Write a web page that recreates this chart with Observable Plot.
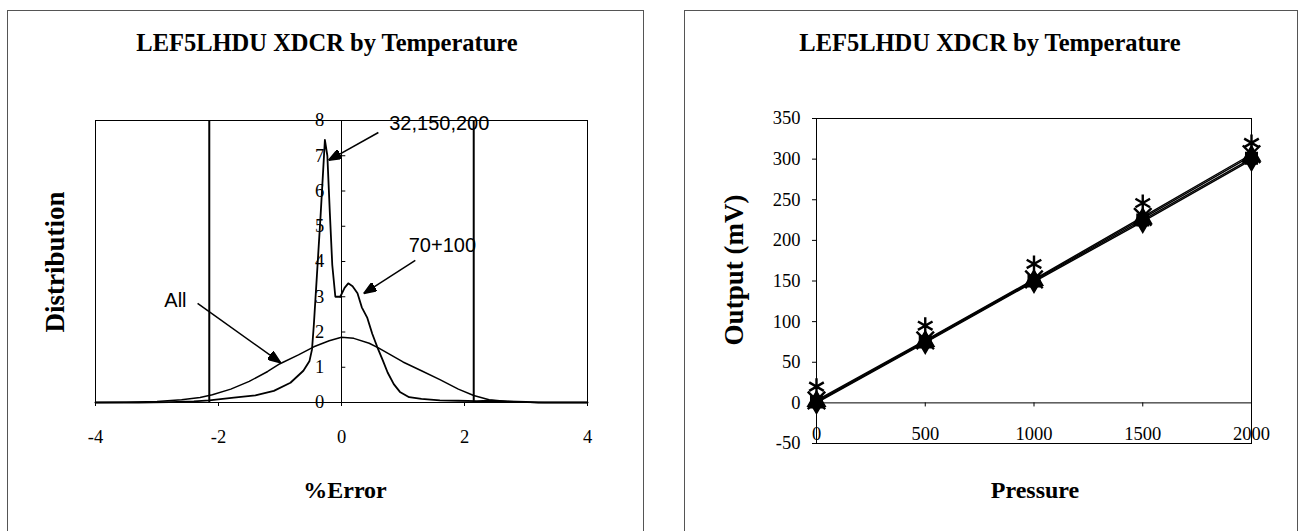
<!DOCTYPE html>
<html><head><meta charset="utf-8">
<script src="https://cdn.jsdelivr.net/npm/d3@7"></script>
<script src="https://cdn.jsdelivr.net/npm/@observablehq/plot@0.6"></script>
<style>
html,body{margin:0;padding:0;background:#fff;width:1299px;height:531px;overflow:hidden;position:relative}
.panel{position:absolute;border:1px solid #555;box-sizing:border-box}
.lbl{position:absolute;font-family:"Liberation Serif","Times New Roman",serif;font-weight:bold;color:#000;white-space:nowrap;transform:translate(-50%,-50%)}
.rot{transform:translate(-50%,-50%) rotate(-90deg)}
.chart{position:absolute;top:0}
</style></head><body>
<div class="panel" style="left:7px;top:10px;width:637px;height:540px"></div>
<div class="panel" style="left:684px;top:10px;width:614px;height:540px"></div>
<div id="c1" class="chart" style="left:0"></div>
<div id="c2" class="chart" style="left:650px"></div>
<div class="lbl" style="left:327px;top:43px;font-size:24.5px">LEF5LHDU XDCR by Temperature</div>
<div class="lbl" style="left:990px;top:43px;font-size:24.5px">LEF5LHDU XDCR by Temperature</div>
<div class="lbl" style="left:345px;top:490px;font-size:24px">%Error</div>
<div class="lbl rot" style="left:55px;top:262px;font-size:27px">Distribution</div>
<div class="lbl" style="left:1035px;top:490px;font-size:24px">Pressure</div>
<div class="lbl rot" style="left:734px;top:270px;font-size:27px">Output (mV)</div>
<script>
// ---------- Left chart data: distribution of %Error ----------
const errTicks = [-4, -2, 0, 2, 4];
const distTicks = [0, 1, 2, 3, 4, 5, 6, 7, 8];
const limitLines = [-2.15, 2.15];

const allX = [-4, -3.5, -3, -2.6, -2.3, -2.1, -1.8, -1.5, -1.2, -1.0, -0.7, -0.45, -0.2, 0.0, 0.2, 0.45, 0.6, 0.8, 1.0, 1.3, 1.6, 1.9, 2.15, 2.4, 2.7, 3.0, 3.3, 3.6, 4];
const allY = [0, 0.01, 0.03, 0.08, 0.14, 0.22, 0.38, 0.6, 0.88, 1.1, 1.35, 1.58, 1.75, 1.85, 1.82, 1.68, 1.55, 1.35, 1.15, 0.9, 0.65, 0.38, 0.2, 0.08, 0.03, 0.01, 0, 0, 0];

const spikeX = [-4, -3.3, -2.8, -2.4, -2.15, -1.75, -1.4, -1.1, -0.83, -0.62, -0.52, -0.48, -0.45, -0.40, -0.34, -0.27, -0.23, -0.19, -0.15, -0.1, -0.02];
const spikeY = [0, 0, 0.01, 0.03, 0.06, 0.14, 0.2, 0.33, 0.56, 0.9, 1.18, 1.5, 2.2, 3.6, 5.3, 7.45, 7.0, 5.4, 3.9, 3.0, 3.0];

const bumpX = [-0.02, 0.05, 0.11, 0.18, 0.26, 0.33, 0.42, 0.5, 0.58, 0.67, 0.75, 0.85, 0.95, 1.1, 1.3, 1.6, 1.9, 2.2, 2.4, 2.7, 3.0, 3.2, 4];
const bumpY = [3.0, 3.25, 3.38, 3.3, 3.1, 2.7, 2.4, 1.95, 1.58, 1.2, 0.85, 0.52, 0.3, 0.15, 0.1, 0.06, 0.05, 0.04, 0.05, 0.03, 0.02, 0, 0];

const noteText = ["32,150,200", "70+100", "All"];
const noteX = [1.59, 1.64, -2.7];
const noteY = [7.91, 4.45, 2.89];
const arrowFromX = [0.60, 1.20, -2.34];
const arrowFromY = [7.66, 4.03, 2.81];
const arrowToX = [-0.21, 0.36, -0.99];
const arrowToY = [6.87, 3.09, 1.13];

// ---------- Right chart data: output vs pressure ----------
const pressure = [0, 500, 1000, 1500, 2000];
const pressureTicks = [0, 500, 1000, 1500, 2000];
const outputTicks = [-50, 0, 50, 100, 150, 200, 250, 300, 350];
const out32 = [0, 74, 149, 223, 299];
const out70 = [1, 75, 150, 225, 301];
const out100 = [2, 76, 151, 227, 304];
const out150 = [3, 77, 152, 229, 306];
const out200 = [20, 95, 171, 246, 320];

const toPts = (xs, ys) => xs.map((x, i) => ({x, y: ys[i]}));
const notes = noteText.map((t, i) => ({t, x: noteX[i], y: noteY[i], x1: arrowFromX[i], y1: arrowFromY[i], x2: arrowToX[i], y2: arrowToY[i]}));

function filledArrow(color, context) {
  const doc = (context && context.document) || document;
  const ns = "http://www.w3.org/2000/svg";
  const m = doc.createElementNS(ns, "marker");
  m.setAttribute("viewBox", "-13 -5 13 10");
  m.setAttribute("markerWidth", 13);
  m.setAttribute("markerHeight", 10);
  m.setAttribute("markerUnits", "userSpaceOnUse");
  m.setAttribute("orient", "auto");
  m.setAttribute("refX", 0);
  m.setAttribute("refY", 0);
  const p = doc.createElementNS(ns, "path");
  p.setAttribute("d", "M0,0L-13,-5L-13,5Z");
  p.setAttribute("fill", "black");
  m.appendChild(p);
  return m;
}

const serif = {fontFamily: "'Liberation Serif','Times New Roman',serif", fontSize: "18.5px", background: "transparent", color: "black", overflow: "visible"};

const left = Plot.plot({
  width: 650, height: 531,
  marginLeft: 95, marginRight: 63, marginTop: 120, marginBottom: 129,
  style: serif,
  x: {domain: [-4, 4], ticks: errTicks, tickSize: 4, tickPadding: 23, tickFormat: d => String(d), label: null},
  y: {domain: [0, 8], axis: null},
  marks: [
    Plot.frame({stroke: "black", strokeWidth: 1}),
    Plot.ruleX([0], {stroke: "black", strokeWidth: 1}),
    Plot.ruleY(distTicks, {y: d => d, x1: 0, x2: 0.07, stroke: "black"}),
    Plot.text(distTicks, {x: 0, y: d => d, text: d => String(d), dx: -22, fontSize: 18.5}),
    Plot.ruleX(limitLines, {x: d => d, y1: 0, y2: 8, stroke: "black", strokeWidth: 2}),
    Plot.line(toPts(allX, allY), {x: "x", y: "y", stroke: "black", strokeWidth: 1.5}),
    Plot.line(toPts(spikeX, spikeY), {x: "x", y: "y", stroke: "black", strokeWidth: 1.8}),
    Plot.line(toPts(bumpX, bumpY), {x: "x", y: "y", stroke: "black", strokeWidth: 1.8}),
    Plot.link(notes, {x1: "x1", y1: "y1", x2: "x2", y2: "y2", stroke: "black", strokeWidth: 1.5, markerEnd: filledArrow}),
    Plot.text(notes, {x: "x", y: "y", text: "t", fontFamily: "'Liberation Sans',Arial,sans-serif", fontSize: 20})
  ]
});
document.getElementById("c1").appendChild(left);

const series = [
  {v: out32, sym: "diamond", fill: "black", line: true},
  {v: out70, sym: "square", fill: "black", line: true},
  {v: out100, sym: "triangle", fill: "black", line: true},
  {v: out150, sym: "times", fill: "none", line: true},
  {v: out200, sym: "asterisk", fill: "none", line: false}
];
const rightMarks = [
  Plot.frame({stroke: "black", strokeWidth: 1}),
  Plot.ruleY([0], {stroke: "black", strokeWidth: 1}),
  Plot.ruleX(pressureTicks, {x: d => d, y1: 0, y2: -5, stroke: "black"}),
  Plot.text(pressureTicks, {x: d => d, y: 0, dy: 31, text: d => String(d), fontSize: 18.5})
];
for (const s of series) {
  const pts = toPts(pressure, s.v);
  if (s.line) rightMarks.push(Plot.line(pts, {x: "x", y: "y", stroke: "black", strokeWidth: 1.4}));
  if (s.fill === "none") rightMarks.push(Plot.dot(pts, {x: "x", y: "y", symbol: s.sym, r: 8, stroke: "black", strokeWidth: 2.4}));
  else rightMarks.push(Plot.dot(pts, {x: "x", y: "y", symbol: s.sym, r: 6.5, fill: "black", stroke: "black"}));
}
const right = Plot.plot({
  width: 649, height: 531,
  marginLeft: 166, marginRight: 48, marginTop: 118, marginBottom: 88,
  style: serif,
  x: {domain: [0, 2000], axis: null},
  y: {domain: [-50, 350], ticks: outputTicks, tickSize: 4, tickPadding: 12, tickFormat: d => String(d), label: null},
  marks: rightMarks
});
document.getElementById("c2").appendChild(right);
</script>
</body></html>
